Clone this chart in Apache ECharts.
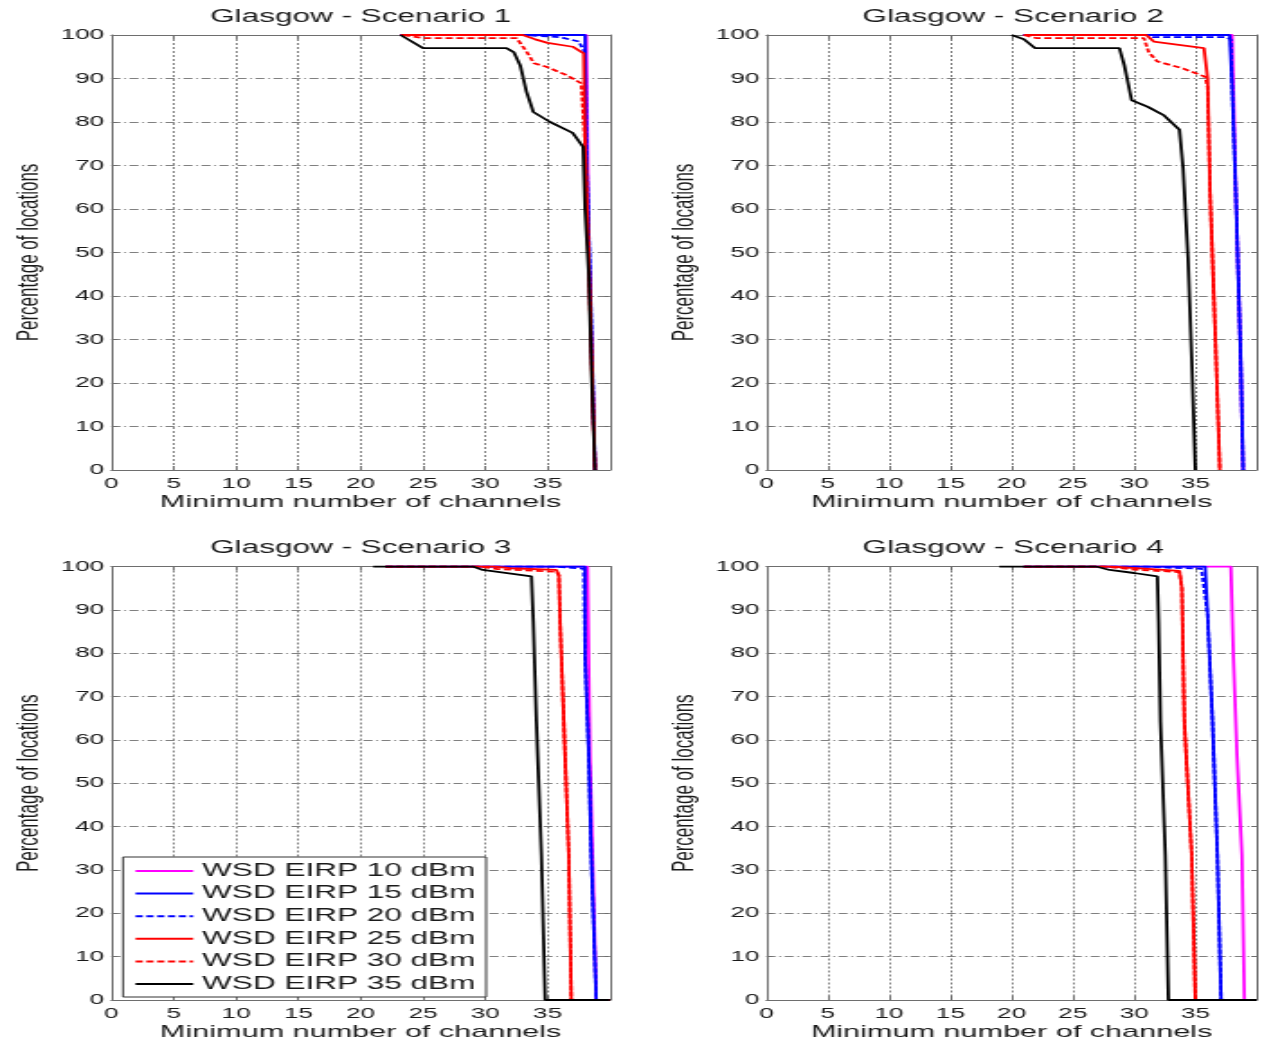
<!DOCTYPE html>
<html>
<head>
<meta charset="utf-8">
<title>Glasgow - Minimum number of channels</title>
<script src="https://cdn.jsdelivr.net/npm/echarts@6/dist/echarts.min.js"></script>
<style>
  html, body { margin: 0; padding: 0; background: #fff; overflow: hidden; }
  /* The figure is laid out on a narrower canvas and widened horizontally. */
  #chart { width: 701px; height: 1042px; transform: scaleX(1.800285); transform-origin: 0 0; }
</style>
</head>
<body>
<div id="chart"></div>
<script>
// ---- labels ----
const scenarioTitles = ['Glasgow - Scenario 1', 'Glasgow - Scenario 2', 'Glasgow - Scenario 3', 'Glasgow - Scenario 4'];
const eirpNames = ['WSD EIRP 10 dBm', 'WSD EIRP 15 dBm', 'WSD EIRP 20 dBm', 'WSD EIRP 25 dBm', 'WSD EIRP 30 dBm', 'WSD EIRP 35 dBm'];
const xTicks = [0, 5, 10, 15, 20, 25, 30, 35];
const yTicks = [0, 10, 20, 30, 40, 50, 60, 70, 80, 90, 100];

// ---- Scenario 1: [channels, % of locations] ----
const s1_10dBm = [[23.2,100],[38.1,100],[38.3,50],[38.8,0]];
const s1_15dBm = [[23.2,100],[38.0,100],[38.1,75],[38.4,45],[38.8,0]];
const s1_20dBm = [[23.2,100],[33,100],[36,99.5],[37.5,98.5],[38.0,96],[38.1,75],[38.4,45],[38.8,0]];
const s1_25dBm = [[23.2,100],[33,100],[34,99],[35,98.2],[37,97.3],[37.9,95.8],[38.0,75],[38.3,48],[38.6,18],[38.8,0]];
const s1_30dBm = [[23.4,100],[25,99.3],[32.5,99.3],[33.3,96.2],[33.9,93.5],[34.9,92.7],[36.5,90.8],[37.7,88.9],[38.0,75],[38.3,48],[38.8,0]];
const s1_35dBm = [[23.2,100],[25,97],[31.7,97],[32.3,96],[32.8,93],[33.3,87],[33.85,82.3],[35.2,80],[37,77.5],[37.85,74.3],[38.0,60],[38.3,45],[38.55,20],[38.8,0]];

// ---- Scenario 2 ----
const s2_10dBm = [[21,100],[38.0,100],[38.3,64],[38.7,25.6],[38.9,0]];
const s2_15dBm = [[21,100],[37.8,100],[38.0,88.5],[38.3,64],[38.7,25.6],[38.9,0]];
const s2_20dBm = [[21,100],[31,100],[31.5,99.5],[37.5,99.5],[37.9,99],[38.0,88.5],[38.3,64],[38.7,25.6],[38.9,0]];
const s2_25dBm = [[21,100],[31,100],[31.6,98.5],[35.7,97],[36.0,90],[36.2,64],[36.6,33],[37.0,0]];
const s2_30dBm = [[21,100],[22,99.3],[30.8,99.3],[31.2,96],[31.9,93.9],[34.0,92.3],[35.8,90.4],[36.0,88],[36.2,64],[36.6,33],[37.0,0]];
const s2_35dBm = [[20,100],[21,99],[21.9,97],[28.8,97],[29.2,93],[29.8,85],[31.1,83.5],[32.4,81.6],[33.7,78.2],[34.0,69.4],[34.4,48.7],[34.7,25.7],[35.0,0]];

// ---- Scenario 3 ----
const s3_10dBm = [[22,100],[38.2,100],[38.4,56],[38.9,0],[40,0]];
const s3_15dBm = [[22,100],[38.0,100],[38.0,79.6],[38.3,56.5],[38.5,33.4],[38.9,0],[40,0]];
const s3_20dBm = [[22,100],[35.5,100],[37,99.7],[37.9,99.5],[38.0,79.6],[38.3,56.5],[38.5,33.4],[38.9,0],[40,0]];
const s3_25dBm = [[22,100],[30.6,100],[32,99.6],[35.7,99.2],[35.9,98],[36.0,87.3],[36.3,64],[36.7,33],[36.9,0],[40,0]];
const s3_30dBm = [[22,100],[29.5,100],[31,99.4],[35.7,98.8],[35.9,98],[36.0,87.3],[36.3,64],[36.7,33],[36.9,0],[40,0]];
const s3_35dBm = [[21,100],[29,100],[29.8,99.2],[33.7,97.7],[33.85,87.3],[34.1,64.2],[34.5,33.4],[34.8,0],[40,0]];

// ---- Scenario 4 ----
const s4_10dBm = [[21,100],[37.9,100],[38.1,79.6],[38.4,56.5],[38.8,33.4],[39.0,0],[40,0]];
const s4_15dBm = [[21,100],[35.8,100],[36.0,88.8],[36.4,64.2],[36.8,33.4],[37.1,0],[40,0]];
const s4_20dBm = [[21,100],[31,100],[33,99.7],[35.5,99.5],[36.0,88.8],[36.4,64.2],[36.8,33.4],[37.1,0],[40,0]];
const s4_25dBm = [[21,100],[28,100],[30.8,99.5],[33.7,99],[33.9,95],[34.1,64.2],[34.7,33.4],[35.0,0],[40,0]];
const s4_30dBm = [[21,100],[27.5,100],[30,99.3],[33.7,98.7],[33.9,95],[34.1,64.2],[34.7,33.4],[35.0,0],[40,0]];
const s4_35dBm = [[19,100],[26.9,100],[28.0,99.2],[30,98.5],[31.9,97.7],[32.0,87.3],[32.15,64.2],[32.55,33.4],[32.8,0],[40,0]];

const scenarioCurves = [
  [s1_10dBm, s1_15dBm, s1_20dBm, s1_25dBm, s1_30dBm, s1_35dBm],
  [s2_10dBm, s2_15dBm, s2_20dBm, s2_25dBm, s2_30dBm, s2_35dBm],
  [s3_10dBm, s3_15dBm, s3_20dBm, s3_25dBm, s3_30dBm, s3_35dBm],
  [s4_10dBm, s4_15dBm, s4_20dBm, s4_25dBm, s4_30dBm, s4_35dBm]
];

// ---- styling ----
const lineColors = ['#ff00ff', '#0000ff', '#0000ff', '#ff0000', '#ff0000', '#000000'];
const lineTypes = ['solid', 'solid', [4, 2], 'solid', [4, 2], 'solid'];
const FONT = 'Liberation Sans, Arial, Helvetica, sans-serif';
const AXIS_GRAY = '#6e6e6e';
const GRID_GRAY = '#808080';
const TEXT = '#1a1a1a';

const panels = [
  { left: 61.9,  top: 35,    width: 276.9, height: 435 },
  { left: 425.8, top: 35,    width: 273.9, height: 435 },
  { left: 61.9,  top: 566.5, width: 276.9, height: 434 },
  { left: 425.8, top: 566.5, width: 273.9, height: 434 }
];

const grid = [], xAxis = [], yAxis = [], title = [], series = [];

panels.forEach((p, i) => {
  grid.push({ left: p.left, top: p.top, width: p.width, height: p.height, containLabel: false });

  title.push({
    text: scenarioTitles[i],
    left: p.left + p.width / 2,
    textAlign: 'center',
    top: p.top - 27,
    padding: 0,
    textStyle: { fontFamily: FONT, fontSize: 17.5, fontWeight: 'normal', color: TEXT }
  });

  // bottom axis with labels and grid
  xAxis.push({
    type: 'value', gridIndex: i, min: 0, max: 40, interval: 5,
    name: 'Minimum number of channels', nameLocation: 'middle', nameGap: 24,
    nameTextStyle: { fontFamily: FONT, fontSize: 17, color: TEXT },
    axisLine: { show: true, lineStyle: { color: AXIS_GRAY, width: 1 } },
    axisTick: { show: true, inside: true, length: 4, lineStyle: { color: AXIS_GRAY } },
    axisLabel: {
      fontFamily: FONT, fontSize: 14.5, color: TEXT, margin: 6,
      formatter: v => (xTicks.indexOf(v) >= 0 ? String(v) : '')
    },
    splitLine: { show: true, lineStyle: { color: GRID_GRAY, width: 1, type: [2, 2] } }
  });
  // left axis with labels and grid
  yAxis.push({
    type: 'value', gridIndex: i, min: 0, max: 100, interval: 10,
    name: 'Percentage of locations', nameLocation: 'middle', nameGap: 37,
    nameTextStyle: { fontFamily: FONT, fontSize: 17, color: TEXT },
    axisLine: { show: true, lineStyle: { color: AXIS_GRAY, width: 1 } },
    axisTick: { show: true, inside: true, length: 3, lineStyle: { color: AXIS_GRAY } },
    axisLabel: {
      fontFamily: FONT, fontSize: 14.5, color: TEXT, margin: 4,
      formatter: v => (yTicks.indexOf(v) >= 0 ? String(v) : '')
    },
    splitLine: { show: true, lineStyle: { color: GRID_GRAY, width: 1, type: [5, 2, 1, 2] } }
  });
});

// top and right box edges with inward ticks
panels.forEach((p, i) => {
  xAxis.push({
    type: 'value', gridIndex: i, min: 0, max: 40, interval: 5, position: 'top',
    axisLine: { show: true, onZero: false, lineStyle: { color: AXIS_GRAY, width: 1 } },
    axisTick: { show: true, inside: true, length: 4, lineStyle: { color: AXIS_GRAY } },
    axisLabel: { show: false }, splitLine: { show: false }
  });
  yAxis.push({
    type: 'value', gridIndex: i, min: 0, max: 100, interval: 10, position: 'right',
    axisLine: { show: true, onZero: false, lineStyle: { color: AXIS_GRAY, width: 1 } },
    axisTick: { show: true, inside: true, length: 3, lineStyle: { color: AXIS_GRAY } },
    axisLabel: { show: false }, splitLine: { show: false }
  });
});

scenarioCurves.forEach((curves, i) => {
  curves.forEach((data, k) => {
    series.push({
      name: eirpNames[k], type: 'line', xAxisIndex: i, yAxisIndex: i,
      data: data, symbol: 'none', showSymbol: false, clip: true,
      lineStyle: { color: lineColors[k], width: 1.8, type: lineTypes[k] },
      itemStyle: { color: lineColors[k] },
      emphasis: { disabled: true }
    });
  });
});

const chart = echarts.init(document.getElementById('chart'), null, { renderer: 'canvas' });
chart.setOption({
  backgroundColor: '#ffffff',
  animation: false,
  title: title,
  grid: grid,
  xAxis: xAxis,
  yAxis: yAxis,
  legend: {
    data: eirpNames,
    orient: 'vertical',
    left: 68.3, top: 857,
    itemWidth: 32, itemHeight: 14, itemGap: 4.6,
    padding: [5, 6, 4, 6],
    backgroundColor: '#ffffff',
    borderColor: '#333', borderWidth: 1, borderRadius: 0,
    // line sample only, no marker dot
    itemStyle: { opacity: 0 },
    textStyle: { fontFamily: FONT, fontSize: 17.5, lineHeight: 18, color: TEXT, padding: [0, 0, 0, 0] },
    selectedMode: false
  },
  series: series
});
</script>
</body>
</html>
